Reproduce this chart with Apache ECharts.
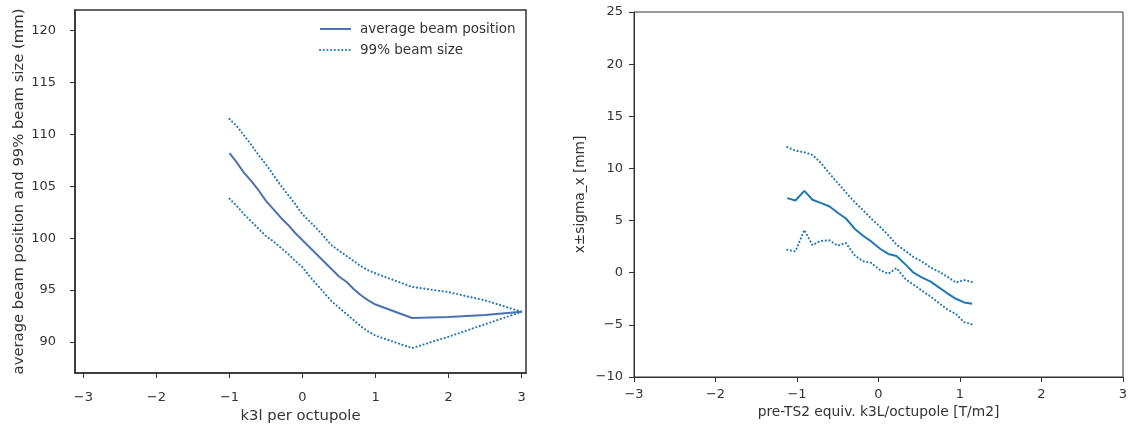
<!DOCTYPE html>
<html>
<head>
<meta charset="utf-8">
<script src="https://cdn.jsdelivr.net/npm/echarts@6/dist/echarts.min.js"></script>
<style>html,body{margin:0;padding:0;background:#fff}#c{width:1130px;height:425px}</style>
</head>
<body>
<div id="c"></div>
<script>
// ---- Left panel data ----
const leftK3l   = [-1.0,-0.9,-0.8,-0.7,-0.6,-0.5,-0.4,-0.3,-0.2,-0.1,0.0,0.1,0.2,0.3,0.4,0.5,0.6,0.7,0.8,0.9,1.0,1.5,2.0,2.5,3.0];
const leftMean  = [108.2,107.3,106.3,105.5,104.6,103.6,102.8,102.0,101.3,100.5,99.8,99.1,98.4,97.7,97.0,96.3,95.8,95.1,94.5,94.0,93.6,92.3,92.4,92.6,92.9];
const leftUpper = [111.5,110.8,109.9,109.0,108.0,107.1,106.1,105.1,104.2,103.3,102.3,101.6,100.9,100.1,99.3,98.8,98.3,97.8,97.3,96.9,96.6,95.3,94.8,94.0,92.9];
const leftLower = [103.8,103.1,102.3,101.6,100.9,100.2,99.7,99.1,98.5,97.8,97.2,96.3,95.5,94.7,93.9,93.3,92.7,92.1,91.5,91.0,90.6,89.4,90.5,91.7,92.9];
const leftXTicks = [-3,-2,-1,0,1,2,3];
const leftYTicks = [90,95,100,105,110,115,120];

// ---- Right panel data ----
const rightK3L   = [-1.12,-1.02,-0.91,-0.81,-0.71,-0.60,-0.50,-0.40,-0.29,-0.19,-0.09,0.02,0.12,0.22,0.33,0.43,0.53,0.64,0.74,0.84,0.95,1.05,1.15];
const rightMean  = [7.15,6.92,7.85,7.0,6.7,6.35,5.75,5.2,4.2,3.55,3.0,2.3,1.8,1.6,0.8,0.0,-0.45,-0.85,-1.4,-1.95,-2.5,-2.85,-2.97];
const rightUpper = [12.05,11.7,11.55,11.3,10.55,9.5,8.6,7.7,6.75,6.0,5.2,4.4,3.6,2.7,2.1,1.5,1.1,0.5,0.1,-0.35,-0.95,-0.7,-0.9];
const rightLower = [2.2,2.05,4.1,2.65,3.05,3.1,2.6,2.85,1.65,1.1,0.95,0.25,-0.1,0.45,-0.6,-1.15,-1.7,-2.3,-2.9,-3.5,-3.95,-4.75,-4.95];

const leftNames = ['average beam position', '99% beam size'];
const leftXName = 'k3l per octupole';
const leftYName = 'average beam position and 99% beam size (mm)';
const rightXName = 'pre-TS2 equiv. k3L/octupole [T/m2]';
const rightYName = 'x\u00b1sigma_x [mm]';

const pairs = (xs, ys) => xs.map((x, i) => [x, ys[i]]);
const fmt = v => (v < 0 ? '\u2212' + Math.abs(v) : String(v));
const FONT = 'DejaVu Sans';
const TXT = '#333';
const AX = '#333';
const meanColor = '#4c72b0';
const tab = '#1f77b4';
const dotted = [0.1, 3.6];

const chart = echarts.init(document.getElementById('c'), null, {renderer: 'canvas'});
chart.setOption({
  animation: false,
  backgroundColor: '#fff',
  textStyle: {fontFamily: FONT, color: TXT},
  legend: {
    data: leftNames,
    orient: 'vertical',
    left: 314,
    top: 17,
    itemWidth: 31,
    itemHeight: 14,
    itemGap: 7,
    itemStyle: {opacity: 0},
    textStyle: {fontFamily: FONT, fontSize: 13.5, color: TXT, padding: [0,0,0,4]}
  },
  grid: [
    {left: 75, right: 604, top: 10, bottom: 52, outerBoundsMode: 'none', containLabel: false, show: true, borderColor: AX, borderWidth: 1.5, backgroundColor: 'transparent'},
    {left: 634, right: 7, top: 12, bottom: 48, outerBoundsMode: 'none', containLabel: false, show: true, borderColor: AX, borderWidth: 1, backgroundColor: 'transparent'}
  ],
  xAxis: [
    {
      gridIndex: 0, type: 'value', min: -3.115, max: 3.06,
      name: leftXName, nameLocation: 'middle', nameGap: 36,
      nameTextStyle: {fontFamily: FONT, fontSize: 14.8, color: TXT},
      axisLine: {show: true, onZero: false, lineStyle: {color: AX, width: 1.5}},
      axisTick: {show: true, length: 5, inside: false, customValues: leftXTicks, lineStyle: {color: AX, width: 1}},
      axisLabel: {customValues: leftXTicks, formatter: fmt, margin: 18, fontFamily: FONT, fontSize: 13, color: TXT},
      splitLine: {show: false}
    },
    {
      gridIndex: 1, type: 'value', min: -3, max: 3, interval: 1,
      name: rightXName, nameLocation: 'middle', nameGap: 28,
      nameTextStyle: {fontFamily: FONT, fontSize: 13.8, color: TXT},
      axisLine: {show: true, onZero: false, lineStyle: {color: AX, width: 1}},
      axisTick: {show: true, length: 5, inside: false, lineStyle: {color: AX, width: 1}},
      axisLabel: {formatter: fmt, margin: 11, fontFamily: FONT, fontSize: 13, color: TXT, showMinLabel: true, showMaxLabel: true},
      splitLine: {show: false}
    }
  ],
  yAxis: [
    {
      gridIndex: 0, type: 'value', min: 87, max: 122,
      name: leftYName, nameLocation: 'middle', nameGap: 48,
      nameTextStyle: {fontFamily: FONT, fontSize: 14.8, color: TXT},
      axisLine: {show: true, onZero: false, lineStyle: {color: AX, width: 1.5}},
      axisTick: {show: true, length: 5, inside: false, customValues: leftYTicks, lineStyle: {color: AX, width: 1}},
      axisLabel: {customValues: leftYTicks, formatter: fmt, margin: 19, fontFamily: FONT, fontSize: 13, color: TXT},
      splitLine: {show: false}
    },
    {
      gridIndex: 1, type: 'value', min: -10, max: 25, interval: 5,
      name: rightYName, nameLocation: 'middle', nameGap: 47,
      nameTextStyle: {fontFamily: FONT, fontSize: 13.7, color: TXT},
      axisLine: {show: true, onZero: false, lineStyle: {color: AX, width: 1}},
      axisTick: {show: true, length: 5, inside: false, lineStyle: {color: AX, width: 1}},
      axisLabel: {formatter: fmt, margin: 11, fontFamily: FONT, fontSize: 13, color: TXT, showMinLabel: true, showMaxLabel: true},
      splitLine: {show: false}
    }
  ],
  series: [
    {name: leftNames[0], type: 'line', xAxisIndex: 0, yAxisIndex: 0, data: pairs(leftK3l, leftMean), showSymbol: false, lineStyle: {color: meanColor, width: 2}, itemStyle: {color: meanColor}, z: 3},
    {name: leftNames[1], type: 'line', xAxisIndex: 0, yAxisIndex: 0, data: pairs(leftK3l, leftUpper), showSymbol: false, lineStyle: {color: tab, width: 2.1, type: dotted, cap: 'round'}, itemStyle: {color: tab}},
    {name: leftNames[1], type: 'line', xAxisIndex: 0, yAxisIndex: 0, data: pairs(leftK3l, leftLower), showSymbol: false, lineStyle: {color: tab, width: 2.1, type: dotted, cap: 'round'}, itemStyle: {color: tab}},
    {name: 'mean', type: 'line', xAxisIndex: 1, yAxisIndex: 1, data: pairs(rightK3L, rightMean), showSymbol: false, lineStyle: {color: tab, width: 2}, itemStyle: {color: tab}},
    {name: 'upper', type: 'line', xAxisIndex: 1, yAxisIndex: 1, data: pairs(rightK3L, rightUpper), showSymbol: false, lineStyle: {color: tab, width: 2.1, type: dotted, cap: 'round'}, itemStyle: {color: tab}},
    {name: 'lower', type: 'line', xAxisIndex: 1, yAxisIndex: 1, data: pairs(rightK3L, rightLower), showSymbol: false, lineStyle: {color: tab, width: 2.1, type: dotted, cap: 'round'}, itemStyle: {color: tab}}
  ]
});
</script>
</body>
</html>
